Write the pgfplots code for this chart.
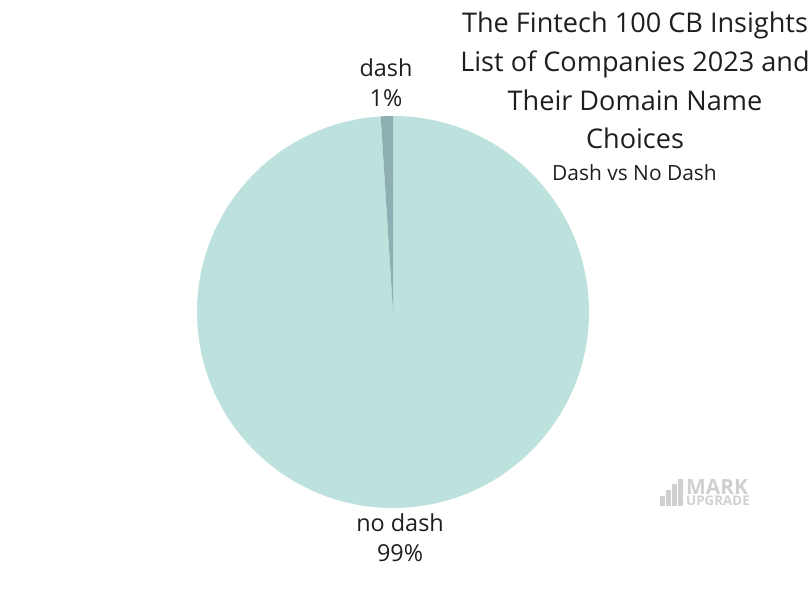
\documentclass[border=0pt]{standalone}
\usepackage{pgfplots}
\usepackage{pgfplotstable}
\pgfplotsset{compat=1.18}
\usepackage{fontspec}
\setmainfont{Open Sans}
\definecolor{nodash}{RGB}{189,225,220}
\definecolor{dashc}{RGB}{143,176,178}
\definecolor{txt}{RGB}{30,30,30}
\definecolor{wm}{RGB}{208,208,208}
\pgfplotstableread{
name value
dash 1
nodash 99
}\piedata
\begin{document}
\begin{tikzpicture}[x=1bp,y=1bp]
\useasboundingbox (0,0) rectangle (810,600);
\pgfplotstablegetelem{0}{value}\of\piedata \let\vdash\pgfplotsretval
\pgfplotstablegetelem{1}{value}\of\piedata \let\vnodash\pgfplotsretval
\pgfmathsetmacro{\tot}{\vdash+\vnodash}
\pgfmathsetmacro{\aA}{90}
\pgfmathsetmacro{\aB}{90+360*\vdash/\tot}
\pgfmathsetmacro{\aC}{90+360}
\begin{axis}[
  at={(393bp,288bp)}, anchor=center,
  scale only axis, width=392bp, height=392bp,
  xmin=-1, xmax=1, ymin=-1, ymax=1,
  hide axis, clip=false]
  \fill[nodash] (axis cs:0,0) -- (axis cs:{cos(\aB)},{sin(\aB)}) arc[start angle=\aB, end angle=\aC, radius=1] -- cycle;
  \fill[dashc] (axis cs:0,0) -- (axis cs:{cos(\aA)},{sin(\aA)}) arc[start angle=\aA, end angle=\aB, radius=1] -- cycle;
  \node[txt, font=\fontsize{23.5}{30}\selectfont, align=center] at (axis cs:-0.036,1.168) {dash\\1\%};
  \node[txt, font=\fontsize{23.5}{30}\selectfont, align=center] at (axis cs:0.036,-1.153) {no dash\\99\%};
\end{axis}
\node[txt, font=\fontsize{27.2}{39}\selectfont, align=center, anchor=center] at (635,519.5)
  {The Fintech 100 CB Insights\\List of Companies 2023 and\\Their Domain Name\\Choices};
\node[txt, font=\fontsize{21}{24}\selectfont, anchor=center] at (634.5,427) {Dash vs No Dash};
% watermark
\fill[wm] (660,94) rectangle (664.5,104);
\fill[wm] (666,94) rectangle (670.5,110);
\fill[wm] (672,94) rectangle (676.5,116);
\fill[wm] (678,94) rectangle (683,121);
\node[wm, anchor=base west, inner sep=0pt, align=left, font=\bfseries] at (686,94)
  {\fontsize{21}{12}\selectfont MARK\\\fontsize{13.4}{12}\selectfont UPGRADE};
\end{tikzpicture}
\end{document}
